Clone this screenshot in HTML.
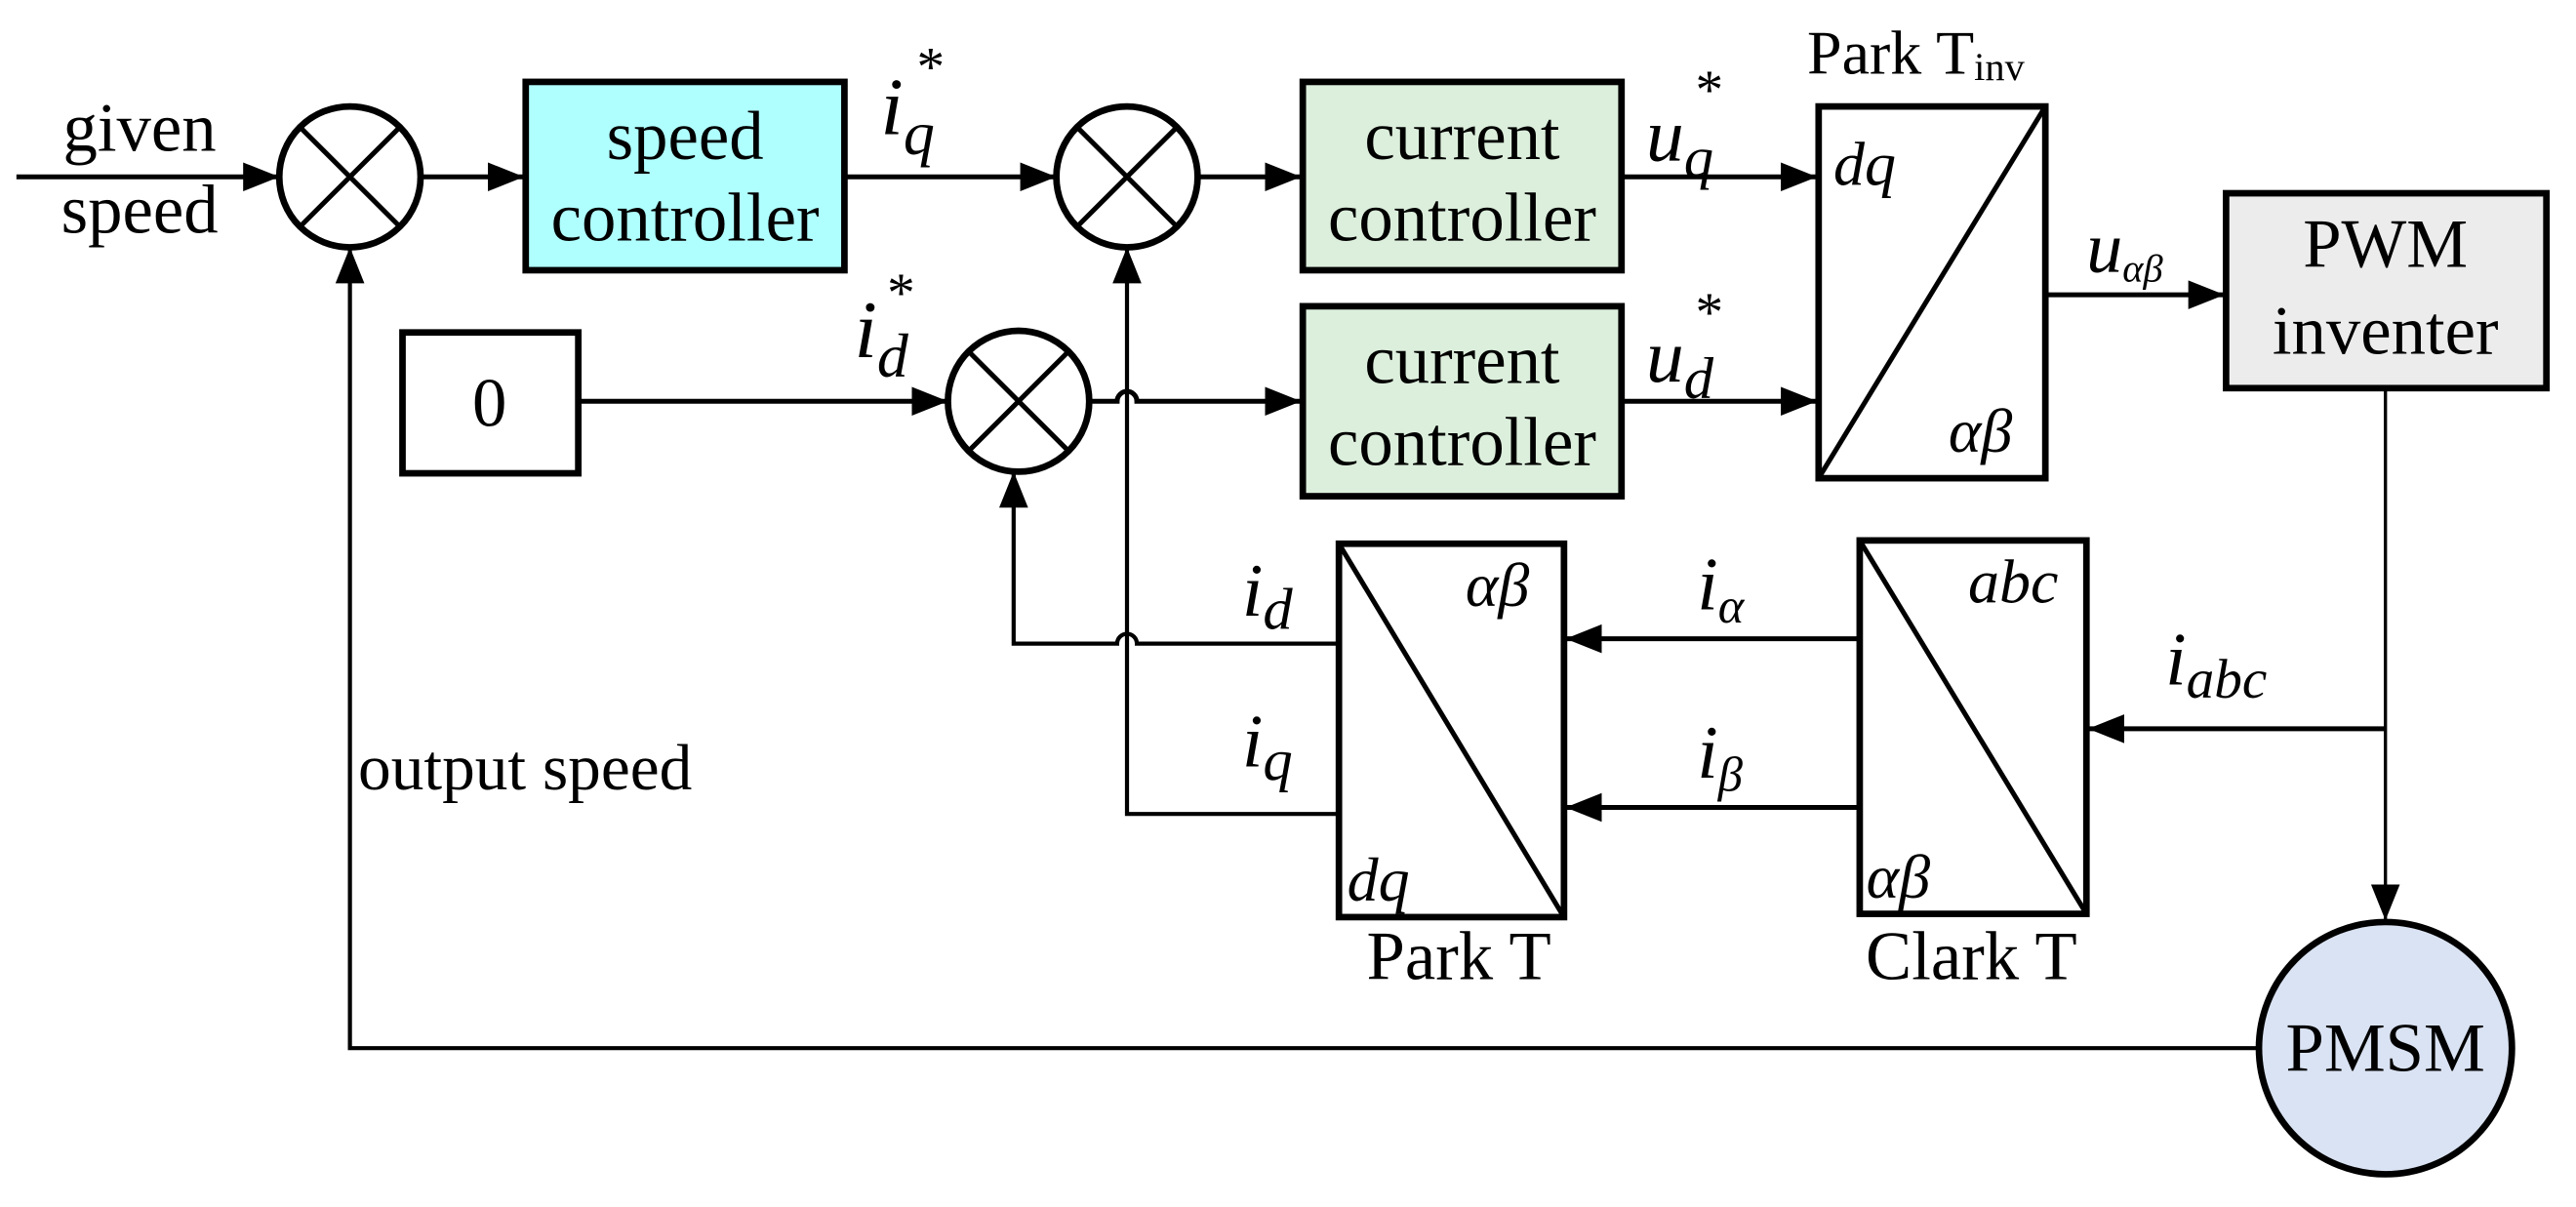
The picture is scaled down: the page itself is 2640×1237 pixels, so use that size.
<!DOCTYPE html>
<html><head><meta charset="utf-8"><style>
html,body{margin:0;padding:0;background:#fff;}
svg{display:block;}
text{font-family:"Liberation Serif",serif;fill:#000;}
.i{font-style:italic;}
</style></head><body>
<svg width="2640" height="1237" viewBox="0 0 1568 737" preserveAspectRatio="none" xmlns="http://www.w3.org/2000/svg">
<defs>
<marker id="b" viewBox="0 0 10 10" refX="10" refY="5" markerWidth="22" markerHeight="22" markerUnits="userSpaceOnUse" orient="auto"><path d="M0,1 L10,5 L0,9z" fill="#000"/></marker>
</defs>
<g stroke="#000" stroke-width="3" fill="none">
<line x1="10" y1="108" x2="170" y2="108" marker-end="url(#b)"/>
<line x1="256" y1="108" x2="319" y2="108" marker-end="url(#b)"/>
<line x1="514" y1="108" x2="643" y2="108" marker-end="url(#b)"/>
<line x1="729" y1="108" x2="792" y2="108" marker-end="url(#b)"/>
<line x1="987" y1="108" x2="1106" y2="108" marker-end="url(#b)"/>
<line x1="1245" y1="180" x2="1354" y2="180" marker-end="url(#b)"/>
<line x1="352" y1="245" x2="577" y2="245" marker-end="url(#b)"/>
<path d="M663,245 H680 A6,6 0 0 1 692,245 H792" marker-end="url(#b)"/>
<line x1="987" y1="245" x2="1106" y2="245" marker-end="url(#b)"/>
<line x1="1452" y1="237" x2="1452" y2="562" stroke-width="2" marker-end="url(#b)"/>
<line x1="1452" y1="445" x2="1271" y2="445" marker-end="url(#b)"/>
<line x1="1132" y1="390" x2="953" y2="390" marker-end="url(#b)"/>
<line x1="1132" y1="493" x2="953" y2="493" marker-end="url(#b)"/>
<path d="M815,393 H692 A6,6 0 0 0 680,393 H617 V288" stroke-width="2.5" marker-end="url(#b)"/>
<path d="M815,497 H686 V151" stroke-width="2.5" marker-end="url(#b)"/>
<path d="M1375,640 H213 V151" stroke-width="2.5" marker-end="url(#b)"/>
</g>
<g stroke="#000" stroke-width="4" fill="#fff">
<circle cx="213" cy="108" r="43"/>
<circle cx="686" cy="108" r="43"/>
<circle cx="620" cy="245" r="43"/>
</g>
<g stroke="#000" stroke-width="3">
<path d="M183,78 L243,138 M243,78 L183,138"/>
<path d="M656,78 L716,138 M716,78 L656,138"/>
<path d="M590,215 L650,275 M650,215 L590,275"/>
</g>
<g stroke="#000" stroke-width="4">
<rect x="320" y="50" width="194" height="115" fill="#b0ffff"/>
<rect x="793" y="50" width="194" height="115" fill="#dcefdc"/>
<rect x="793" y="187" width="194" height="116" fill="#dcefdc"/>
<rect x="245" y="203" width="107" height="86" fill="#fff"/>
<rect x="1107" y="65" width="138" height="227" fill="#fff"/>
<rect x="1355" y="118" width="195" height="119" fill="#ececec"/>
<rect x="815" y="332" width="137" height="228" fill="#fff"/>
<rect x="1132" y="330" width="138" height="228" fill="#fff"/>
<circle cx="1452" cy="640" r="77" fill="#dae3f3"/>
</g>
<g stroke="#000" stroke-width="3">
<line x1="1245" y1="65" x2="1107" y2="292"/>
<line x1="815" y1="332" x2="952" y2="560"/>
<line x1="1132" y1="330" x2="1270" y2="558"/>
</g>
<g font-size="42" text-anchor="middle">
<text x="85" y="92">given</text>
<text x="85" y="142">speed</text>
<text x="417" y="97">speed</text>
<text x="417" y="147">controller</text>
<text x="890" y="97">current</text>
<text x="890" y="147">controller</text>
<text x="890" y="234">current</text>
<text x="890" y="284">controller</text>
<text x="298" y="260">0</text>
<text x="1452" y="163">PWM</text>
<text x="1452" y="216">inventer</text>
<text x="1452" y="654">PMSM</text>
<text x="888" y="598">Park T</text>
<text x="1200" y="598">Clark T</text>
</g>
<text x="1100" y="45" font-size="38">Park T<tspan font-size="24" dy="4">inv</tspan></text>
<text x="218" y="482" font-size="40">output speed</text>
<g class="i" font-size="50">
<text x="536" y="82">i<tspan font-size="38" dy="12">q</tspan></text>
<text x="558" y="52" font-size="34" font-style="normal">*</text>
<text x="520" y="218">i<tspan font-size="38" dy="12">d</tspan></text>
<text x="540" y="190" font-size="34" font-style="normal">*</text>
<text x="1002" y="98" font-size="46">u<tspan font-size="36" dy="10">q</tspan></text>
<text x="1032" y="66" font-size="34" font-style="normal">*</text>
<text x="1002" y="233" font-size="46">u<tspan font-size="36" dy="10">d</tspan></text>
<text x="1032" y="202" font-size="34" font-style="normal">*</text>
<text x="1270" y="166" font-size="44">u<tspan font-size="24" dy="6">αβ</tspan></text>
<text x="1116" y="113" font-size="38">dq</text>
<text x="1186" y="276" font-size="38">αβ</text>
<text x="892" y="370" font-size="38">αβ</text>
<text x="820" y="550" font-size="38">dq</text>
<text x="1198" y="368" font-size="38">abc</text>
<text x="1136" y="548" font-size="38">αβ</text>
<text x="756" y="376" font-size="46">i<tspan font-size="36" dy="8">d</tspan></text>
<text x="756" y="468" font-size="46">i<tspan font-size="36" dy="8">q</tspan></text>
<text x="1033" y="372" font-size="46">i<tspan font-size="30" dy="8">α</tspan></text>
<text x="1033" y="475" font-size="46">i<tspan font-size="30" dy="8">β</tspan></text>
<text x="1318" y="418" font-size="46">i<tspan font-size="34" dy="8">abc</tspan></text>
</g>
</svg>
</body></html>
